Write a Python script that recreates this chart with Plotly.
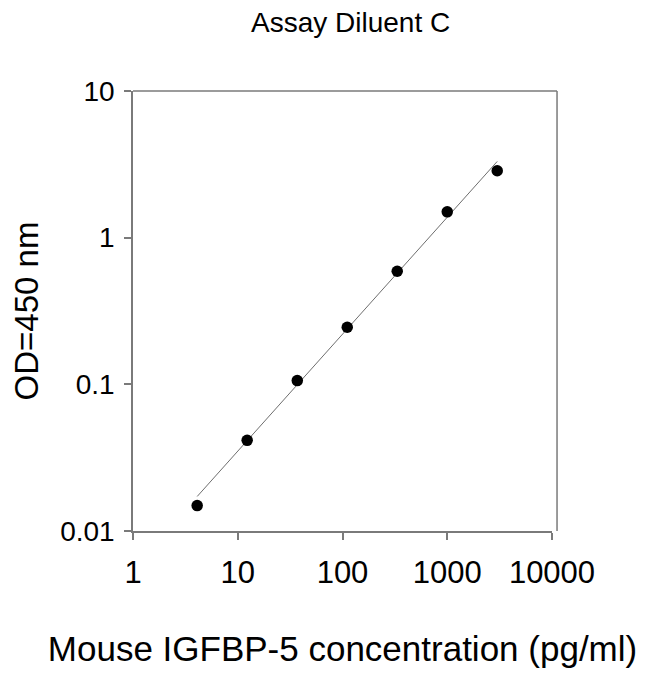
import plotly.graph_objects as go

# standard curve
conc = [4.1, 12.3, 37.0, 111.0, 333.0, 1000.0, 3000.0]
od = [0.0149, 0.0415, 0.106, 0.245, 0.59, 1.50, 2.86]

# fitted line end points
fit_x = [4.1, 3000.0]
fit_y = [0.0172, 3.31]

xticks = [1, 10, 100, 1000, 10000]
xlabels = ['1', '10', '100', '1000', '10000']
yticks = [0.01, 0.1, 1, 10]
ylabels = ['0.01', '0.1', '1', '10']

font = 'Liberation Sans, Arial, sans-serif'
axcol = '#7a7a7a'

fig = go.Figure()
fig.add_trace(go.Scatter(x=fit_x, y=fit_y, mode='lines',
                         line=dict(color='#6e6e6e', width=1), showlegend=False))
fig.add_trace(go.Scatter(x=conc, y=od, mode='markers',
                         marker=dict(color='black', size=11.5), showlegend=False))

fig.update_xaxes(type='log', range=[0, 4], tickvals=xticks, ticktext=xlabels,
                 ticks='outside', ticklen=7, tickwidth=1.5, tickcolor=axcol,
                 showline=True, linecolor=axcol, linewidth=1.5,
                 showgrid=False, zeroline=False, ticklabelstandoff=6,
                 tickfont=dict(family=font, size=31, color='black'),
                 title=dict(text='Mouse IGFBP-5 concentration (pg/ml)', standoff=48,
                            font=dict(family=font, size=35, color='black')))
fig.update_yaxes(type='log', range=[-2, 1], tickvals=yticks, ticktext=ylabels,
                 ticks='outside', ticklen=7, tickwidth=1.5, tickcolor=axcol,
                 showline=True, linecolor=axcol, linewidth=1.5,
                 showgrid=False, zeroline=False, ticklabelstandoff=4,
                 tickfont=dict(family=font, size=28, color='black'),
                 title=dict(text='OD=450 nm', standoff=14,
                            font=dict(family=font, size=33, color='black')))

# frame: top edge and right edge (right edge sits a little past 10000)
fig.add_shape(type='line', xref='paper', yref='paper', x0=0, x1=1.012, y0=1, y1=1,
              line=dict(color=axcol, width=1.5))
fig.add_shape(type='line', xref='paper', yref='paper', x0=1.012, x1=1.012, y0=0, y1=1,
              line=dict(color=axcol, width=1.5))

# chart title as an annotation so it can sit close to the top
fig.add_annotation(text='Assay Diluent C', xref='paper', yref='paper',
                   x=0.518, y=1.155, xanchor='center', yanchor='middle',
                   showarrow=False, font=dict(family=font, size=28, color='black'))

# page body has an 8px margin: shrink the figure so it fits the window
fig.update_layout(width=642, height=666,
                  margin=dict(l=125, r=98, t=83, b=141),
                  paper_bgcolor='white', plot_bgcolor='white')

fig.write_html('out.html')
